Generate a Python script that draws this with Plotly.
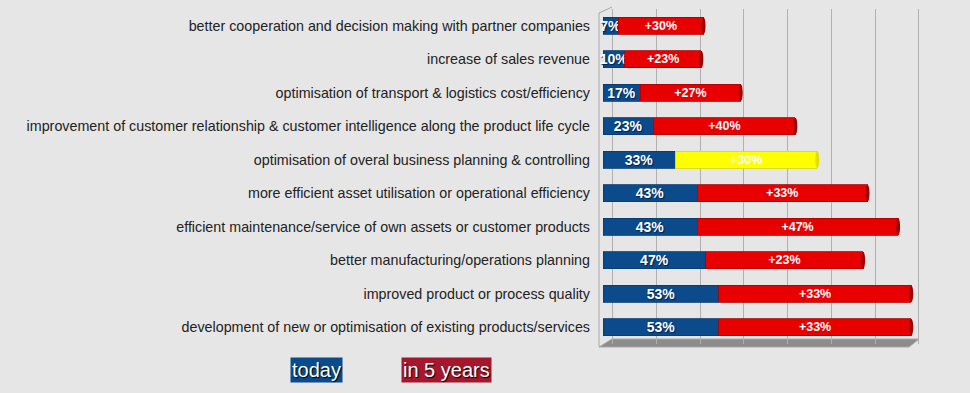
import plotly.graph_objects as go

categories = [
    "better cooperation and decision making with partner companies",
    "increase of sales revenue",
    "optimisation of transport & logistics cost/efficiency",
    "improvement of customer relationship & customer intelligence along the product life cycle",
    "optimisation of overal business planning & controlling",
    "more efficient asset utilisation or operational efficiency",
    "efficient maintenance/service of own assets or customer products",
    "better manufacturing/operations planning",
    "improved product or process quality",
    "development of new or optimisation of existing products/services",
]
today = [7, 10, 17, 23, 33, 43, 43, 47, 53, 53]
future_len = [39, 35, 46, 65, 65, 78, 92, 72, 88, 88]
future_labels = ["+30%", "+23%", "+27%", "+40%", "+30%", "+33%", "+47%", "+23%", "+33%", "+33%"]
grid_ticks = [0, 20, 40, 60, 80, 100, 120, 140]
highlight_row = 4

BLUE = "#0b4a8b"
RED = "#e80000"
RED_CAP = "#9c0000"
YELLOW = "#ffff00"
BG = "#e6e6e6"

W, H = 970, 393
L, R, T, B = 603, 50, 9, 49
PW, PH = W - L - R, H - T - B
DEPTH = 4.45  # back-wall offset of the 3D frame, in axis units


def px(x):
    return (x - L) / PW


def py(y):
    return (H - B - y) / PH


ypos = list(range(len(categories)))
fut_colors = [YELLOW if i == highlight_row else RED for i in ypos]
fut_line = ["#d8d800" if i == highlight_row else "#b00000" for i in ypos]

fig = go.Figure()
fig.add_trace(go.Bar(
    y=ypos, x=today, orientation="h", width=0.5, name="today",
    marker=dict(color=BLUE, line=dict(color="#083a70", width=0.8)),
    text=[f"{v}%" for v in today], textposition="inside", insidetextanchor="middle",
    constraintext="none", textangle=0, cliponaxis=False,
    textfont=dict(family="Liberation Sans", size=14, color="white", weight=700,
                  shadow="1px 1px 1px #02204a"),
    hoverinfo="skip",
))
fig.add_trace(go.Bar(
    y=ypos, x=future_len, orientation="h", width=0.5, name="in 5 years",
    marker=dict(color=fut_colors, line=dict(color=fut_line, width=0.8)),
    text=future_labels, textposition="inside", insidetextanchor="middle",
    constraintext="none", textangle=0, cliponaxis=False,
    textfont=dict(family="Liberation Sans", size=12.5, color="white", weight=700),
    hoverinfo="skip",
))

shapes = []
# floor and left wall of the 3D frame
shapes.append(dict(type="path", xref="paper", yref="paper",
                   path=f"M {px(599)},{py(347)} L {px(612)},{py(339)} L {px(919)},{py(339)} L {px(909)},{py(347)} Z",
                   fillcolor="#8c8c8c", line=dict(color="#a8a8a8", width=1), layer="below"))
shapes.append(dict(type="path", xref="paper", yref="paper",
                   path=f"M {px(599)},{py(347)} L {px(599)},{py(13)} L {px(612)},{py(7)}",
                   line=dict(color="#a8a8a8", width=1), layer="below"))
# cylinder caps
for i in ypos:
    end = today[i] + future_len[i]
    cap = "#e0e000" if i == highlight_row else RED_CAP
    shapes.append(dict(type="circle", xref="x", yref="y",
                       x0=end - 0.9, x1=end + 0.9, y0=i - 0.25, y1=i + 0.25,
                       fillcolor=cap, line=dict(width=0), layer="above"))
    shapes.append(dict(type="circle", xref="x", yref="y",
                       x0=-0.7, x1=0.7, y0=i - 0.25, y1=i + 0.25,
                       fillcolor=BLUE, line=dict(width=0), layer="below"))

annotations = [
    dict(text="today", xref="paper", yref="paper", x=px(316), y=py(370),
         xanchor="center", yanchor="middle", showarrow=False, bgcolor=BLUE, borderpad=1,
         font=dict(family="Liberation Sans", size=20, color="white", shadow="1px 1px 1px #000")),
    dict(text="in 5 years", xref="paper", yref="paper", x=px(446), y=py(370),
         xanchor="center", yanchor="middle", showarrow=False, bgcolor="#a5172c", borderpad=1,
         font=dict(family="Liberation Sans", size=20, color="white", shadow="1px 1px 1px #000")),
]

fig.update_layout(
    width=W, height=H, margin=dict(l=L, r=R, t=T, b=B),
    paper_bgcolor=BG, plot_bgcolor=BG, barmode="stack", bargap=0.5,
    showlegend=False, shapes=shapes, annotations=annotations,
    xaxis=dict(range=[0, 145], showgrid=True, gridcolor="#b0b0b0", gridwidth=1,
               tickvals=[v + DEPTH for v in grid_ticks], showticklabels=False,
               zeroline=False, ticks=""),
    yaxis=dict(range=[9.5, -0.5], tickvals=ypos, ticktext=categories, showgrid=False,
               zeroline=False, ticks="", ticklabelstandoff=12,
               tickfont=dict(family="Liberation Sans", size=14.3, color="#222222")),
)

fig.write_html(
    "out.html",
    config={"displayModeBar": False},
    post_script="document.body.style.margin='0';document.body.style.background='#e6e6e6';",
)
